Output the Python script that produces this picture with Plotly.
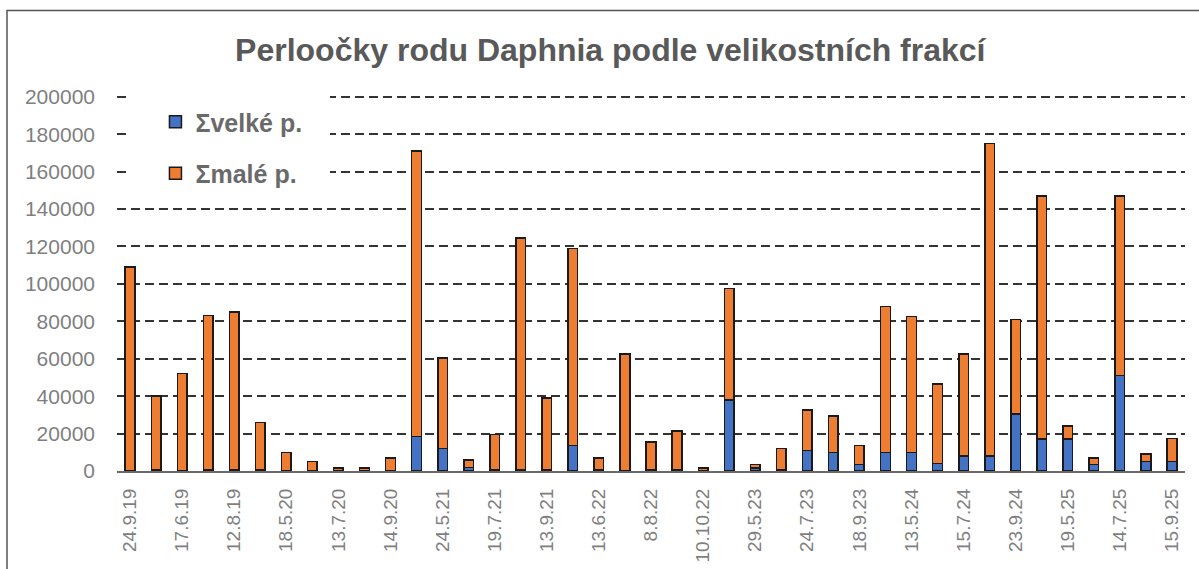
import plotly.graph_objects as go

# tick labels (every second sampling date is labelled)
tick_labels = ["24.9.19", "17.6.19", "12.8.19", "18.5.20", "13.7.20", "14.9.20",
               "24.5.21", "19.7.21", "13.9.21", "13.6.22", "8.8.22", "10.10.22",
               "29.5.23", "24.7.23", "18.9.23", "13.5.24", "15.7.24", "23.9.24",
               "19.5.25", "14.7.25", "15.9.25"]

# Σ velké p. (large individuals)
velke = [0, 500, 0, 500, 500, 500, 0, 0, 0, 0,
         0, 18500, 12000, 2000, 500, 500, 500, 13500, 500, 0,
         500, 500, 0, 38000, 1600, 500, 11000, 10000, 3500, 10000,
         10000, 4000, 8000, 8000, 30500, 17000, 17000, 3500, 51000, 5000,
         5000]

# Σ malé p. (small individuals)
male = [109000, 39500, 52000, 82500, 84500, 25500, 10000, 5000, 1500, 1500,
        7000, 152500, 48500, 4000, 19000, 124000, 38500, 105500, 6500, 62500,
        15000, 21000, 1500, 59500, 2000, 11500, 21500, 19500, 10000, 78000,
        72500, 42500, 54500, 167000, 50500, 130000, 7000, 3500, 96000, 4000,
        12500]

sample_idx = list(range(len(male)))
tick_pos = sample_idx[::2]

fig = go.Figure()
fig.add_trace(go.Bar(x=sample_idx, y=velke, name="Σvelké p.",
                     marker=dict(color="#4472C4", line=dict(color="#1a1a1a", width=1.5)),
                     legendgroup="a"))
fig.add_trace(go.Bar(x=sample_idx, y=male, name="Σmalé p.",
                     marker=dict(color="#ED7D31", line=dict(color="#1a1a1a", width=1.5)),
                     legendgroup="b"))

grey = "#7f7f7f"
fig.update_layout(
    template="none",
    barmode="stack",
    bargap=0.63,
    width=1199, height=569,
    margin=dict(l=117, r=14, t=93, b=98, autoexpand=False),
    paper_bgcolor="white", plot_bgcolor="white",
    font=dict(family="Liberation Sans, Arial, sans-serif", color=grey),
    title=dict(text="<b>Perloočky rodu Daphnia podle velikostních frakcí</b>",
               x=0.509, xanchor="center", y=0.912, yanchor="middle",
               font=dict(size=32, color="#595959",
                         family="Liberation Sans, Arial, sans-serif")),
    showlegend=True,
    legend=dict(x=0.036, xanchor="left", y=0.984, yanchor="top",
                bgcolor="rgba(0,0,0,0)", traceorder="grouped", tracegroupgap=16,
                font=dict(size=25, color="#6a6a6a",
                          family="Liberation Sans, Arial, sans-serif", weight="bold")),
    xaxis=dict(range=[-0.5, len(male) - 0.5], tickmode="array",
               tickvals=tick_pos, ticktext=tick_labels, tickangle=-90,
               showgrid=False, zeroline=False, showline=True, automargin=False,
               linecolor="#6a6a6a", linewidth=2, ticks="",
               ticklabelstandoff=8,
               tickfont=dict(size=19, color=grey)),
    yaxis=dict(range=[0, 202000], tickmode="linear", dtick=20000, tick0=0,
               tickformat="d", showgrid=True, gridcolor="#333333",
               gridwidth=1.7, griddash="9px,5px", zeroline=False, automargin=False,
               showline=False, ticks="", ticklabelstandoff=21,
               tickfont=dict(size=21, color=grey)),
    shapes=[
        # white backing behind legend (covers gridlines)
        dict(type="rect", xref="paper", yref="paper",
             x0=0.0103, x1=0.1994, y0=0.743, y1=1.03,
             fillcolor="white", line=dict(width=0), layer="above"),
        # chart frame
        dict(type="rect", xref="paper", yref="paper",
             x0=-0.103, x1=1.03, y0=-0.5, y1=1.218,
             line=dict(color="#555555", width=1.5), fillcolor="rgba(0,0,0,0)",
             layer="below"),
    ],
)

fig.write_html("out.html",
               config={"displayModeBar": False},
               post_script="document.body.style.margin='0px';"
                           "document.body.style.overflow='hidden';")
